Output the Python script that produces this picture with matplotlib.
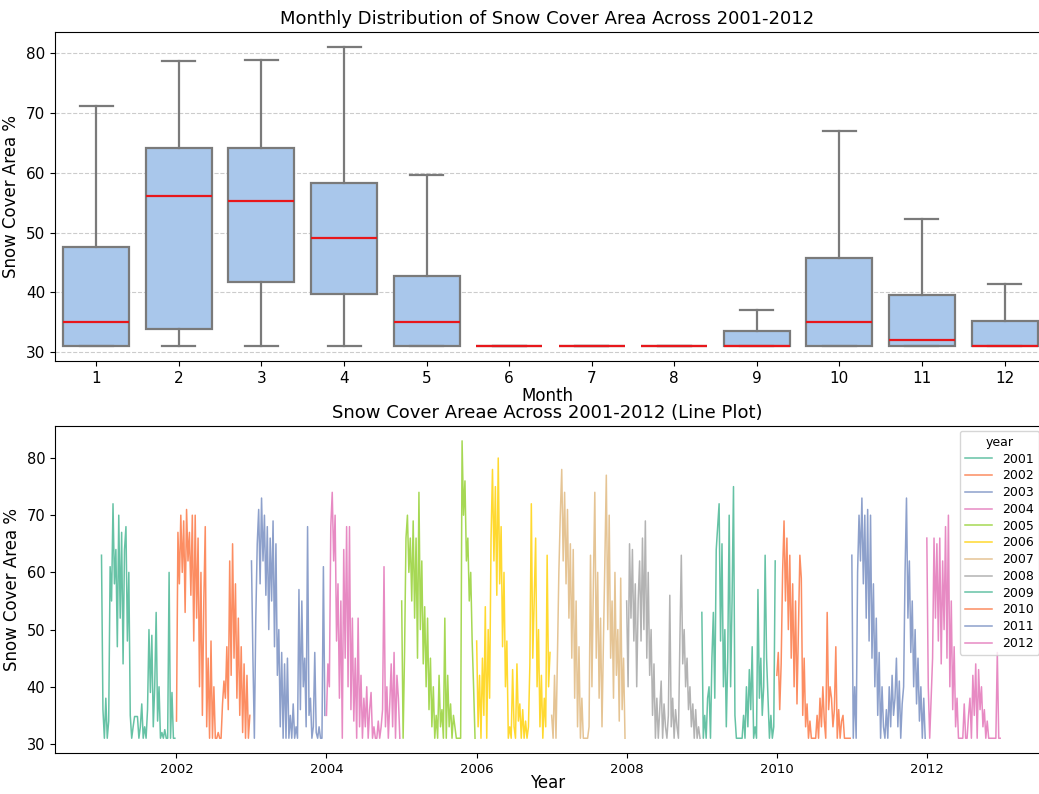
import matplotlib
matplotlib.use("Agg")
import matplotlib.pyplot as plt
import matplotlib.dates as mdates
import pandas as pd

# ---------------- Box plot data (per month) ----------------
months = [1, 2, 3, 4, 5, 6, 7, 8, 9, 10, 11, 12]
whisker_low = [31.05] * 12
q1 = [31.05, 33.9, 41.7, 39.75, 31.05, 31.05, 31.05, 31.05, 31.05, 31.05, 31.05, 31.05]
medians = [35.15, 56.1, 55.2, 49.15, 35.15, 31.05, 31.05, 31.05, 31.05, 35.0, 32.0, 31.05]
q3 = [47.6, 64.1, 64.1, 58.35, 42.7, 31.05, 31.05, 31.05, 33.6, 45.8, 39.5, 35.3]
whisker_high = [71.2, 78.7, 78.8, 81.0, 59.6, 31.05, 31.05, 31.05, 37.0, 67.0, 52.3, 41.4]

# ---------------- Weekly snow-cover values per year ----------------
years = list(range(2001, 2013))
sca_2001 = [63, 36, 31, 38, 31, 34, 61, 55, 72, 58, 64, 47, 70, 52, 67, 44, 64, 68, 48, 60,
            35, 31, 33, 34.8, 34.8, 34.8, 31, 33, 37, 31, 33, 31, 36, 50, 39, 49, 33, 40, 53, 34,
            40, 31, 32, 31, 32.5, 31, 31, 60, 31, 39, 31, 31]
sca_2002 = [34, 67, 58, 70, 60, 69, 53, 71, 62, 67, 56, 70, 48, 70, 52, 66, 40, 60, 35, 55,
            68, 33, 45, 31, 48, 31, 40, 31, 31, 32, 31, 31, 37, 41, 38, 47, 36, 62, 42, 65,
            45, 58, 38, 52, 35, 47, 32, 44, 31, 42, 31, 35]
sca_2003 = [62, 45, 31, 52, 65, 71, 58, 73, 62, 70, 56, 68, 50, 66, 55, 69, 47, 65, 42, 50,
            33, 46, 31, 44, 31, 45, 31, 35, 31, 37, 31, 33, 31, 57, 36, 55, 40, 45, 33, 68,
            35, 38, 31, 33, 46, 32, 31, 33, 31, 31, 61, 35]
sca_2004 = [35, 44, 40, 68, 74, 62, 70, 48, 58, 38, 55, 31, 64, 45, 68, 40, 68, 36, 52, 34,
            45, 31, 52, 33, 42, 31, 38, 33, 40, 31, 36, 39, 31, 33, 31, 31, 34, 31, 33, 36,
            61, 33, 40, 31, 37, 44, 33, 46, 31, 42, 38, 31]
sca_2005 = [55, 31, 46, 66, 70, 60, 66, 55, 69, 52, 66, 45, 74, 50, 62, 44, 54, 40, 52, 36,
            45, 33, 40, 31, 35, 31, 42, 33, 36, 31, 52, 31, 42, 33, 37, 31, 35, 33, 31, 31,
            31, 31, 83, 70, 76, 62, 66, 55, 60, 48, 40, 31]
sca_2006 = [48, 33, 42, 31, 45, 35, 54, 31, 50, 38, 66, 78, 62, 75, 56, 80, 58, 68, 47, 60,
            40, 48, 31, 33, 31, 43, 33, 31, 44, 34, 37, 31, 36, 31, 34, 31, 33, 44, 72, 45,
            55, 66, 40, 50, 33, 42, 31, 38, 33, 63, 40, 46]
sca_2007 = [35, 31, 42, 31, 45, 60, 70, 78, 62, 74, 58, 71, 52, 65, 45, 64, 38, 55, 33, 47,
            31, 38, 31, 31, 31, 31, 33, 63, 40, 58, 74, 45, 60, 38, 52, 33, 48, 62, 77, 50,
            70, 45, 55, 38, 60, 42, 50, 34, 59, 36, 45, 31]
sca_2008 = [55, 40, 65, 52, 64, 48, 58, 40, 55, 62, 48, 66, 50, 69, 45, 60, 42, 50, 35, 44,
            31, 38, 31, 36, 41, 31, 37, 33, 31, 35, 56, 33, 38, 31, 36, 33, 31, 48, 63, 44,
            50, 40, 45, 36, 40, 33, 37, 31, 36, 31, 33, 31]
sca_2009 = [53, 31, 35, 31, 38, 40, 31, 45, 53, 38, 64, 68, 72, 48, 65, 40, 50, 33, 45, 70,
            40, 55, 75, 35, 31, 31, 31, 31, 31, 35, 31, 40, 33, 43, 36, 47, 31, 33, 31, 57,
            38, 45, 35, 40, 63, 45, 38, 31, 35, 31, 33, 62]
sca_2010 = [42, 46, 36, 44, 60, 69, 55, 66, 50, 63, 45, 58, 40, 55, 37, 50, 63, 59, 35, 45,
            33, 37, 31, 34, 31, 31, 31, 31, 35, 31, 38, 33, 40, 34, 31, 53, 36, 40, 38, 33,
            36, 47, 31, 36, 31, 34, 35, 31, 31, 31, 31, 31]
sca_2011 = [63, 31, 40, 31, 60, 70, 62, 73, 58, 70, 52, 71, 48, 70, 45, 58, 40, 52, 35, 46,
            31, 40, 33, 31, 36, 31, 40, 33, 42, 35, 38, 45, 33, 41, 31, 37, 40, 60, 73, 52,
            62, 46, 55, 40, 50, 37, 45, 34, 40, 31, 38, 31]
sca_2012 = [66, 40, 31, 38, 45, 66, 52, 65, 48, 66, 44, 62, 50, 68, 45, 70, 40, 55, 36, 47,
            33, 38, 31, 31, 31, 31, 37, 31, 31, 35, 38, 31, 42, 35, 44, 31, 43, 36, 40, 33,
            36, 31, 34, 31, 31, 31, 31, 31, 31, 46, 31, 31]
yearly_values = [sca_2001, sca_2002, sca_2003, sca_2004, sca_2005, sca_2006,
                 sca_2007, sca_2008, sca_2009, sca_2010, sca_2011, sca_2012]

set2 = ['#66c2a5', '#fc8d62', '#8da0cb', '#e78ac3', '#a6d854', '#ffd92f', '#e5c494', '#b3b3b3']

fig = plt.figure(figsize=(10.39, 7.94), dpi=100)
ax1 = fig.add_axes([0.053, 0.5453, 0.948, 0.4144])
ax2 = fig.add_axes([0.053, 0.0515, 0.948, 0.412])

# ---------------- Top: box plot ----------------
stats = []
for m, lo, a, md, b, hi in zip(months, whisker_low, q1, medians, q3, whisker_high):
    stats.append(dict(label=str(m), whislo=lo, q1=a, med=md, q3=b, whishi=hi, fliers=[]))
edge = '#7a7a7a'
ax1.bxp(stats, positions=months, widths=0.8, patch_artist=True, showfliers=False,
        boxprops=dict(facecolor='#a9c7eb', edgecolor=edge, linewidth=1.6),
        whiskerprops=dict(color=edge, linewidth=1.6),
        capprops=dict(color=edge, linewidth=1.6),
        medianprops=dict(color='#e8171b', linewidth=1.6))
ax1.set_xlim(0.5, 12.43)
ax1.yaxis.grid(True, linestyle='--', color='#cccccc', linewidth=0.8)
ax1.set_axisbelow(True)
ax1.set_title('Monthly Distribution of Snow Cover Area Across 2001-2012', fontsize=13)
ax1.set_xlabel('Month', fontsize=12, labelpad=1)
ax1.set_ylabel('Snow Cover Area %', fontsize=12)
ax1.tick_params(labelsize=11)

# ---------------- Bottom: line plot ----------------
for i, (yr, vals) in enumerate(zip(years, yearly_values)):
    dates = pd.date_range(f'{yr}-01-01', periods=len(vals), freq='7D')
    ax2.plot(dates, vals, color=set2[i % 8], linewidth=1.1, label=str(yr))
ax2.xaxis.set_major_locator(mdates.YearLocator(2))
ax2.xaxis.set_major_formatter(mdates.DateFormatter('%Y'))
ax2.set_xlim(pd.Timestamp('2000-05-20'), pd.Timestamp('2013-07-05'))
ax2.set_title('Snow Cover Areae Across 2001-2012 (Line Plot)', fontsize=13)
ax2.set_xlabel('Year', fontsize=12, labelpad=-1)
ax2.set_ylabel('Snow Cover Area %', fontsize=12)
ax2.tick_params(axis='x', labelsize=9.5)
ax2.tick_params(axis='y', labelsize=10.5)
leg = ax2.legend(title='year', loc='upper right', bbox_to_anchor=(0.999, 0.985),
                 borderaxespad=0, fontsize=9, title_fontsize=9,
                 labelspacing=0.3, handlelength=2.2)

fig.savefig('out.png', dpi=100)
